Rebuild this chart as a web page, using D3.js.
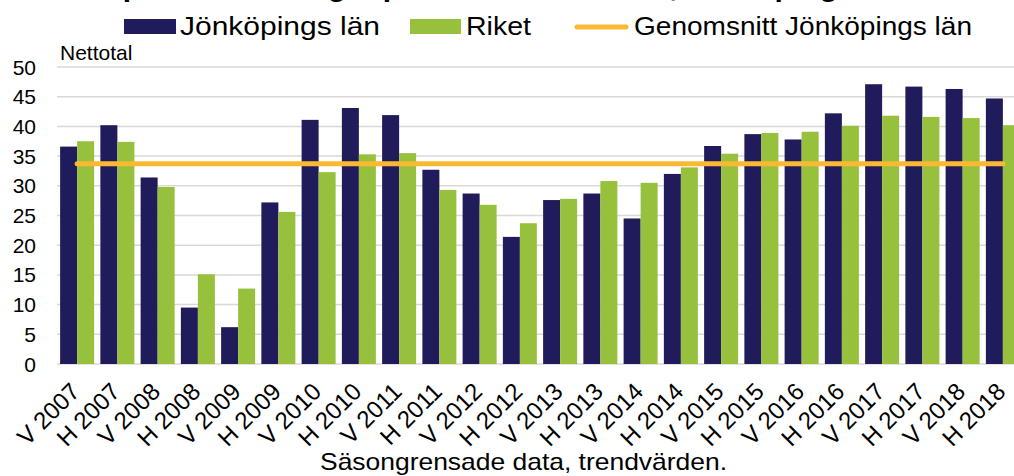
<!DOCTYPE html>
<html>
<head>
<meta charset="utf-8">
<script src="https://cdn.jsdelivr.net/npm/d3@7"></script>
<style>
  body { margin: 0; background: #fff; }
  text { font-family: "Liberation Sans", Arial, sans-serif; fill: #000; }
</style>
</head>
<body>
<div id="chart"></div>
<script>
// DATA
var categories = ["V 2007", "H 2007", "V 2008", "H 2008", "V 2009", "H 2009",
  "V 2010", "H 2010", "V 2011", "H 2011", "V 2012", "H 2012",
  "V 2013", "H 2013", "V 2014", "H 2014", "V 2015", "H 2015",
  "V 2016", "H 2016", "V 2017", "H 2017", "V 2018", "H 2018"];

var jonkoping = [36.6, 40.2, 31.4, 9.5, 6.2, 27.2, 41.1, 43.1, 41.9, 32.7, 28.7, 21.4,
  27.6, 28.7, 24.5, 32.0, 36.7, 38.7, 37.8, 42.2, 47.1, 46.7, 46.3, 44.7];

var riket = [37.5, 37.4, 29.8, 15.1, 12.7, 25.6, 32.3, 35.3, 35.5, 29.3, 26.8, 23.7,
  27.8, 30.8, 30.5, 33.1, 35.4, 38.9, 39.1, 40.1, 41.8, 41.6, 41.4, 40.2];

var genomsnitt = 33.7;

var yTicks = [0, 5, 10, 15, 20, 25, 30, 35, 40, 45, 50];

var seriesNames = ["Jönköpings län", "Riket", "Genomsnitt Jönköpings län"];

// colours
var navy = "#201b5b"
, green = "#97c13d"
, orange = "#fbb933"
, grid = "#d9d9d9";

var w = 1014
, h = 476
, plotLeft = 57
, plotRight = 1023
, plotTop = 67
, plotBottom = 364;

var svg = d3.select("#chart")
  .append("svg")
  .attr("width", w)
  .attr("height", h);

// title (cut off at the top in the original)
svg.append("text")
  .attr("x", 86)
  .attr("y", -4)
  .style("font-size", "30px")
  .style("font-weight", "bold")
  .text("Exportförväntningar på 12 månaders sikt, Jönköpings län");

var x0 = d3.scaleBand()
  .domain(categories)
  .range([plotLeft, plotRight])
  .paddingInner(0.155)
  .paddingOuter(0.0775);

var x1 = d3.scaleBand()
  .domain(["j", "r"])
  .range([0, x0.bandwidth()]);

var y = d3.scaleLinear()
  .domain([0, 50])
  .range([plotBottom, plotTop]);

// gridlines
svg.append("g")
  .selectAll("line")
  .data(yTicks)
  .enter()
  .append("line")
  .attr("x1", plotLeft)
  .attr("x2", w)
  .attr("y1", function(d) { return y(d); })
  .attr("y2", function(d) { return y(d); })
  .attr("stroke", grid)
  .attr("stroke-width", 1.5);

// y labels
svg.append("g")
  .selectAll("text")
  .data(yTicks)
  .enter()
  .append("text")
  .attr("x", 36)
  .attr("y", function(d) { return y(d); })
  .attr("dy", "0.36em")
  .attr("text-anchor", "end")
  .style("font-size", "21px")
  .text(function(d) { return d; });

svg.append("text")
  .attr("x", 60)
  .attr("y", 60)
  .style("font-size", "21px")
  .text("Nettotal");

// bars
var groups = svg.append("g")
  .selectAll("g")
  .data(categories)
  .enter()
  .append("g")
  .attr("transform", function(d) { return "translate(" + x0(d) + ",0)"; });

groups.append("rect")
  .attr("x", x1("j"))
  .attr("y", function(d, i) { return y(jonkoping[i]); })
  .attr("width", x1.bandwidth())
  .attr("height", function(d, i) { return y(0) - y(jonkoping[i]); })
  .attr("fill", navy);

groups.append("rect")
  .attr("x", x1("r"))
  .attr("y", function(d, i) { return y(riket[i]); })
  .attr("width", x1.bandwidth())
  .attr("height", function(d, i) { return y(0) - y(riket[i]); })
  .attr("fill", green);

// average line
var line = d3.line()
  .x(function(d) { return x0(d) + x0.bandwidth() / 2; })
  .y(function() { return y(genomsnitt); });

svg.append("path")
  .datum(categories)
  .attr("d", line)
  .attr("fill", "none")
  .attr("stroke", orange)
  .attr("stroke-width", 5)
  .attr("stroke-linecap", "round");

// x labels
svg.append("g")
  .selectAll("text")
  .data(categories)
  .enter()
  .append("text")
  .attr("transform", function(d) {
    var cx = x0(d) + x0.bandwidth() / 2 + 4;
    return "translate(" + cx + ",393) rotate(-45)";
  })
  .attr("text-anchor", "end")
  .style("font-size", "24px")
  .text(function(d) { return d; });

svg.append("text")
  .attr("x", 320)
  .attr("y", 470)
  .attr("textLength", 407)
  .attr("lengthAdjust", "spacingAndGlyphs")
  .style("font-size", "24px")
  .text("Säsongrensade data, trendvärden.");

// legend
var legend = svg.append("g");

legend.append("rect")
  .attr("x", 124).attr("y", 19)
  .attr("width", 52).attr("height", 15)
  .attr("fill", navy);
legend.append("text")
  .attr("x", 180).attr("y", 35)
  .attr("textLength", 200)
  .attr("lengthAdjust", "spacingAndGlyphs")
  .style("font-size", "25px")
  .text(seriesNames[0]);

legend.append("rect")
  .attr("x", 410).attr("y", 19)
  .attr("width", 51).attr("height", 15)
  .attr("fill", green);
legend.append("text")
  .attr("x", 466).attr("y", 35)
  .attr("textLength", 65)
  .attr("lengthAdjust", "spacingAndGlyphs")
  .style("font-size", "25px")
  .text(seriesNames[1]);

legend.append("line")
  .attr("x1", 577).attr("x2", 626)
  .attr("y1", 27).attr("y2", 27)
  .attr("stroke", orange)
  .attr("stroke-width", 5)
  .attr("stroke-linecap", "round");
legend.append("text")
  .attr("x", 634).attr("y", 35)
  .attr("textLength", 338)
  .attr("lengthAdjust", "spacingAndGlyphs")
  .style("font-size", "25px")
  .text(seriesNames[2]);
</script>
</body>
</html>
